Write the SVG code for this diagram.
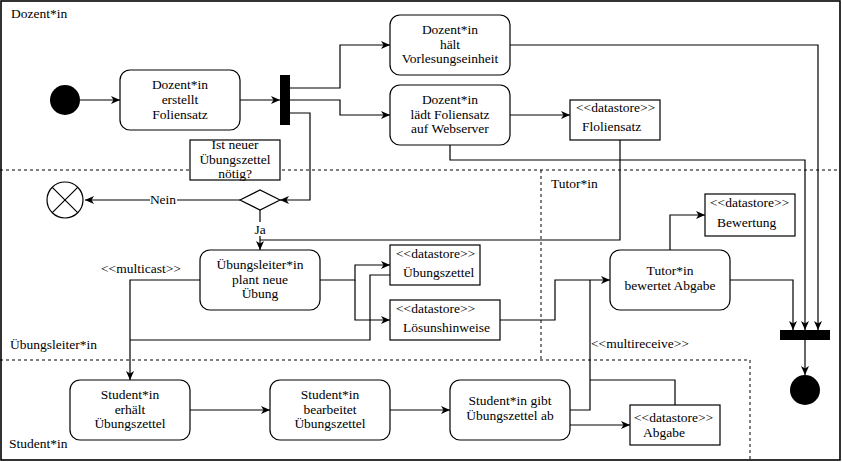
<svg xmlns="http://www.w3.org/2000/svg" width="842" height="462" viewBox="0 0 842 462">
<style>
text{font-family:"Liberation Serif","Times New Roman",serif;font-size:13.5px;fill:#000}
.c{text-anchor:middle}
.act{fill:#fff;stroke:#000;stroke-width:1.2}
.ds{fill:#fff;stroke:#000;stroke-width:1.2}
.ln{fill:none;stroke:#000;stroke-width:1.2}
.lane{fill:none;stroke:#000;stroke-width:1;stroke-dasharray:3 3}
</style>
<defs>
<marker id="a" markerUnits="userSpaceOnUse" markerWidth="10" markerHeight="10" refX="9" refY="4" orient="auto">
<path d="M0,0 L9,4 L0,8 L2.5,4 z" fill="#000"/>
</marker>
</defs>
<rect x="1" y="1" width="839" height="459" fill="#fff" stroke="#000" stroke-width="1.6"/>
<g id="lanes">
<line class="lane" x1="0" y1="170" x2="840" y2="170"/>
<line class="lane" x1="541" y1="170" x2="541" y2="360"/>
<line class="lane" x1="0" y1="360" x2="750" y2="360"/>
<line class="lane" x1="750" y1="360" x2="750" y2="460"/>
<text x="11" y="18">Dozent*in</text>
<text x="551" y="188">Tutor*in</text>
<text x="10" y="349">Übungsleiter*in</text>
<text x="9" y="448">Student*in</text>
</g>
<g id="connectors">
<path class="ln" d="M80,100 H120" marker-end="url(#a)"/>
<path class="ln" d="M240,100 H280" marker-end="url(#a)"/>
<path class="ln" d="M290,88 H340 V45 H390" marker-end="url(#a)"/>
<path class="ln" d="M290,100 H340 V115 H390" marker-end="url(#a)"/>
<path class="ln" d="M290,113 H310 V200 H280" marker-end="url(#a)"/>
<path class="ln" d="M240,200 H85" marker-end="url(#a)"/>
<path class="ln" d="M260,210 V250" marker-end="url(#a)"/>
<path class="ln" d="M510,115 H570" marker-end="url(#a)"/>
<path class="ln" d="M620,140 V240 H260"/>
<path class="ln" d="M510,45 H818 V330" marker-end="url(#a)"/>
<path class="ln" d="M450,145 V160 H805 V330" marker-end="url(#a)"/>
<path class="ln" d="M320,280 H355 V265 H390" marker-end="url(#a)"/>
<path class="ln" d="M355,280 V320 H390" marker-end="url(#a)"/>
<path class="ln" d="M390,275 H370 V340 H130"/>
<path class="ln" d="M200,280 H130 V380" marker-end="url(#a)"/>
<path class="ln" d="M500,320 H555 V280 H610" marker-end="url(#a)"/>
<path class="ln" d="M670,250 V215 H705" marker-end="url(#a)"/>
<path class="ln" d="M730,280 H793 V330" marker-end="url(#a)"/>
<path class="ln" d="M805,340 V375" marker-end="url(#a)"/>
<path class="ln" d="M190,410 H270" marker-end="url(#a)"/>
<path class="ln" d="M390,410 H450" marker-end="url(#a)"/>
<path class="ln" d="M570,410 H590 V280"/>
<path class="ln" d="M570,425 H630" marker-end="url(#a)"/>
<path class="ln" d="M675,405 V380 H590"/>
<rect x="150" y="193" width="27" height="14" fill="#fff"/>
<text class="c" x="163" y="204">Nein</text>
<rect x="253" y="222" width="14" height="14" fill="#fff"/>
<text class="c" x="260" y="234">Ja</text>
<text x="101" y="273">&lt;&lt;multicast&gt;&gt;</text>
<text x="591" y="348">&lt;&lt;multireceive&gt;&gt;</text>
</g>
<g id="start"><circle cx="65" cy="100" r="15" fill="#000"/></g>
<g id="erstellt">
<rect class="act" x="120" y="70" width="120" height="60" rx="10"/>
<text class="c" x="180" y="89">Dozent*in</text>
<text class="c" x="180" y="104">erstellt</text>
<text class="c" x="180" y="118.5">Foliensatz</text>
</g>
<g id="fork"><rect x="280" y="75" width="10" height="50" fill="#000"/></g>
<g id="haelt">
<rect class="act" x="390" y="15" width="120" height="60" rx="10"/>
<text class="c" x="450" y="33.5">Dozent*in</text>
<text class="c" x="450" y="48.5">hält</text>
<text class="c" x="450" y="63.3">Vorlesungseinheit</text>
</g>
<g id="laedt">
<rect class="act" x="390" y="85" width="120" height="60" rx="10"/>
<text class="c" x="450" y="103.5">Dozent*in</text>
<text class="c" x="450" y="118.5">lädt Foliensatz</text>
<text class="c" x="450" y="133.3">auf Webserver</text>
</g>
<g id="ds-folien">
<rect class="ds" x="570" y="100" width="90" height="40"/>
<text x="576" y="112">&lt;&lt;datastore&gt;&gt;</text>
<text x="582" y="131">Floliensatz</text>
</g>
<g id="question">
<rect x="190" y="140" width="90" height="40" fill="#fff" stroke="#000" stroke-width="1.2"/>
<text class="c" x="235" y="149">Ist neuer</text>
<text class="c" x="235" y="163.5">Übungszettel</text>
<text class="c" x="235" y="178">nötig?</text>
</g>
<g id="decision"><path d="M240,200 L260,190 L280,200 L260,210 z" fill="#fff" stroke="#000" stroke-width="1.2"/></g>
<g id="flowfinal">
<circle cx="65" cy="200" r="18" fill="#fff" stroke="#000" stroke-width="1.2"/>
<path d="M52.3,187.3 L77.7,212.7 M77.7,187.3 L52.3,212.7" stroke="#000" stroke-width="1.2"/>
</g>
<g id="plant">
<rect class="act" x="200" y="250" width="120" height="60" rx="10"/>
<text class="c" x="260" y="268.5">Übungsleiter*in</text>
<text class="c" x="260" y="283.5">plant neue</text>
<text class="c" x="260" y="298.3">Übung</text>
</g>
<g id="ds-zettel">
<rect class="ds" x="390" y="245" width="90" height="40"/>
<text x="396" y="258.3">&lt;&lt;datastore&gt;&gt;</text>
<text x="403" y="276.7">Übungszettel</text>
</g>
<g id="ds-loesung">
<rect class="ds" x="390" y="300" width="110" height="40"/>
<text x="396" y="313.3">&lt;&lt;datastore&gt;&gt;</text>
<text x="403" y="331.7">Lösunshinweise</text>
</g>
<g id="tutor">
<rect class="act" x="610" y="250" width="120" height="60" rx="10"/>
<text class="c" x="670" y="275">Tutor*in</text>
<text class="c" x="670" y="290">bewertet Abgabe</text>
</g>
<g id="ds-bewertung">
<rect class="ds" x="705" y="194" width="90" height="42"/>
<text x="710" y="207">&lt;&lt;datastore&gt;&gt;</text>
<text x="717" y="227">Bewertung</text>
</g>
<g id="join"><rect x="780" y="330" width="50" height="10" fill="#000"/></g>
<g id="end"><circle cx="805" cy="390" r="15" fill="#000"/></g>
<g id="erhaelt">
<rect class="act" x="70" y="380" width="120" height="60" rx="10"/>
<text class="c" x="130" y="398.5">Student*in</text>
<text class="c" x="130" y="413.5">erhält</text>
<text class="c" x="130" y="428.3">Übungszettel</text>
</g>
<g id="bearbeitet">
<rect class="act" x="270" y="380" width="120" height="60" rx="10"/>
<text class="c" x="330" y="398.5">Student*in</text>
<text class="c" x="330" y="413.5">bearbeitet</text>
<text class="c" x="330" y="428.3">Übungszettel</text>
</g>
<g id="gibt">
<rect class="act" x="450" y="380" width="120" height="60" rx="10"/>
<text class="c" x="510" y="405">Student*in gibt</text>
<text class="c" x="510" y="420">Übungszettel ab</text>
</g>
<g id="ds-abgabe">
<rect class="ds" x="630" y="405" width="90" height="40"/>
<text x="634" y="422.3">&lt;&lt;datastore&gt;&gt;</text>
<text x="643" y="436.7">Abgabe</text>
</g>
</svg>
